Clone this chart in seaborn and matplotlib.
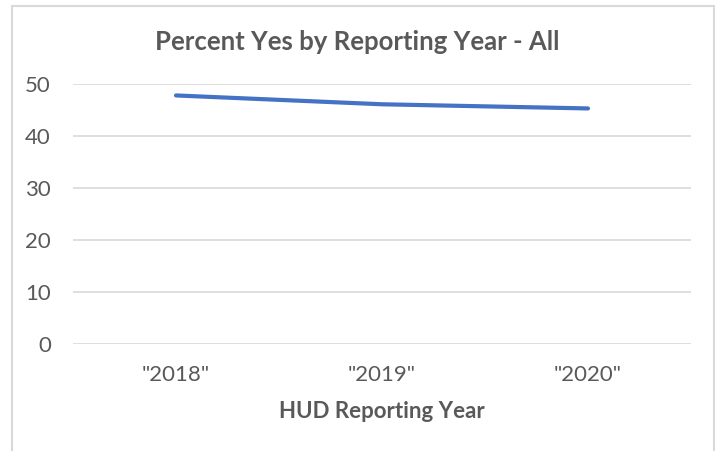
import matplotlib
matplotlib.use("Agg")
import matplotlib.pyplot as plt
import seaborn as sns
import pandas as pd
from matplotlib.patches import Rectangle

# data
years = ['"2018"', '"2019"', '"2020"']
pct_yes = [47.8, 46.1, 45.3]
y_ticks = [0, 10, 20, 30, 40, 50]

df = pd.DataFrame({"year": years, "pct": pct_yes})

sns.set_style("white")
plt.rcParams['font.family'] = ['Lato', 'DejaVu Sans']

txt_col = "#595959"
fig = plt.figure(figsize=(7.15, 4.51), dpi=100)
ax = fig.add_axes([73/715, 1 - 344/451, 618/715, 260/451])

sns.lineplot(data=df, x="year", y="pct", ax=ax, color="#4472C4",
             linewidth=3, sort=False, solid_capstyle="round")

ax.set_xlim(-0.5, 2.5)
ax.set_ylim(0, 50)
ax.set_yticks(y_ticks)
ax.yaxis.grid(True, color="#D9D9D9", linewidth=1.2)
ax.set_axisbelow(True)
for s in ax.spines.values():
    s.set_visible(False)
ax.tick_params(axis="both", length=0, labelsize=16, colors=txt_col)
ax.tick_params(axis="y", pad=16)
ax.tick_params(axis="x", pad=15)

ax.set_ylabel("")
ax.set_xlabel("HUD Reporting Year", fontsize=16, fontweight="bold",
              color=txt_col, labelpad=12)
fig.text(0.5, 1 - 42/451, "Percent Yes by Reporting Year - All", ha="center",
         va="center", fontsize=18.5, fontweight="bold", color=txt_col)

# chart frame (screenshot is cut at the bottom)
fig.patches.append(Rectangle((12/715, -0.05), 702/715, 1 - 6/451 + 0.05,
                             transform=fig.transFigure, fill=False,
                             edgecolor="#D9D9D9", linewidth=1.5))

fig.savefig("out.png", dpi=100)
